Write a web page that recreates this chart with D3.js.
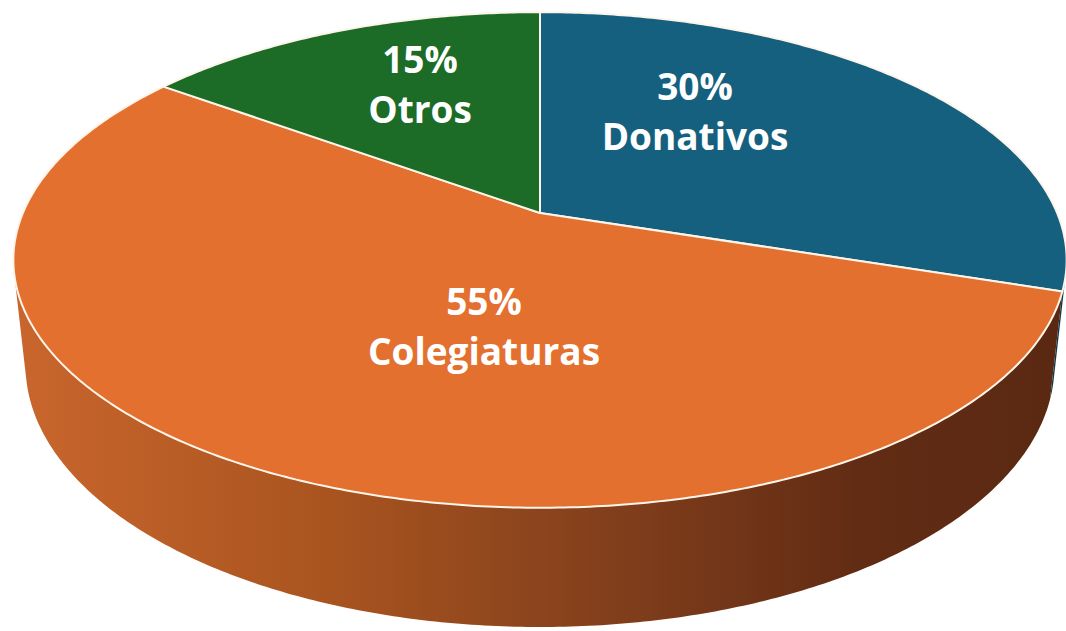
<!DOCTYPE html>
<html>
<head>
<meta charset="utf-8">
<script src="https://cdn.jsdelivr.net/npm/d3@7"></script>
<style>
  html, body { margin: 0; padding: 0; background: #fff; }
  svg { display: block; }
</style>
</head>
<body>
<div class="displayArea"></div>
<script>
// data
var categories = ["Donativos", "Colegiaturas", "Otros"];
var values = [30, 55, 15];
var pctLabels = ["30%", "55%", "15%"];

var topColors = ["#16607f", "#e3702f", "#1c6b27"],
    wallColors = ["#0d3a50", "url(#wallGrad)", "#0f3d16"];

var width = 1066,
    height = 631;

// camera for the 3d look (pie radius = 1 unit)
var cx = 540, cy = 213,   // where the slices meet on screen
    tilt = Math.asin(0.462),
    dist = 4.68,
    focal = 2420,
    depth = 0.2314;       // thickness of the pie

function project(theta, r, y) { // theta clockwise from 12 o'clock, y = height
    var u = r * Math.sin(theta),
        v = -r * Math.cos(theta); // toward the viewer
    var d = dist - y * Math.sin(tilt) - v * Math.cos(tilt);
    return [cx + focal * u / d, cy - focal * (y * Math.cos(tilt) - v * Math.sin(tilt)) / d];
}

function arcPoints(a0, a1, y) {
    var n = Math.max(2, Math.ceil(Math.abs(a1 - a0) / 0.01)),
        pts = [];
    for (var i = 0; i <= n; i++) {
        pts.push(project(a0 + (a1 - a0) * i / n, 1, y));
    }
    return pts;
}

var pie = d3.pie().sort(null).value(function (d) { return d; });
var slices = pie(values);

var svg = d3.select(".displayArea")
    .append("svg")
    .attr("width", width)
    .attr("height", height);

var defs = svg.append("defs");
var grad = defs.append("linearGradient")
    .attr("id", "wallGrad")
    .attr("gradientUnits", "userSpaceOnUse")
    .attr("x1", 13).attr("x2", 1067)
    .attr("y1", 0).attr("y2", 0);
grad.append("stop").attr("offset", 0).attr("stop-color", "#c9662d");
grad.append("stop").attr("offset", 0.3).attr("stop-color", "#a9541f");
grad.append("stop").attr("offset", 0.55).attr("stop-color", "#84401c");
grad.append("stop").attr("offset", 0.8).attr("stop-color", "#622c14");
grad.append("stop").attr("offset", 1).attr("stop-color", "#5a2812");

var line = d3.line();

// side walls, only the part that faces the camera
var tVis = 1 / (dist * Math.cos(tilt)),
    wallMin = Math.acos(-tVis),
    wallMax = 2 * Math.PI - wallMin;

svg.append("g").selectAll("path")
    .data(slices)
    .enter()
    .append("path")
    .attr("d", function (d) {
        var a0 = Math.max(d.startAngle, wallMin),
            a1 = Math.min(d.endAngle, wallMax);
        if (a1 <= a0) return null;
        var pts = arcPoints(a0, a1, 0).concat(arcPoints(a1, a0, -depth));
        return line(pts) + "Z";
    })
    .attr("fill", function (d, i) { return wallColors[i]; });

// top faces
svg.append("g").selectAll("path")
    .data(slices)
    .enter()
    .append("path")
    .attr("d", function (d) {
        var pts = [project(0, 0, 0)].concat(arcPoints(d.startAngle, d.endAngle, 0));
        return line(pts) + "Z";
    })
    .attr("fill", function (d, i) { return topColors[i]; })
    .attr("stroke", "#fdf5ea")
    .attr("stroke-width", 2)
    .attr("stroke-linejoin", "round");

// labels (anchor of first line, baseline)
var labelAt = [[695, 100], [484, 315], [420, 73]],
    lineGap = 50;

var lab = svg.append("g")
    .attr("font-family", "'Open Sans', sans-serif")
    .attr("font-weight", 700)
    .attr("font-size", 37)
    .attr("fill", "#ffffff")
    .attr("text-anchor", "middle")
    .selectAll("g")
    .data(slices)
    .enter()
    .append("g");

lab.append("text")
    .attr("x", function (d, i) { return labelAt[i][0]; })
    .attr("y", function (d, i) { return labelAt[i][1]; })
    .text(function (d, i) { return pctLabels[i]; });

lab.append("text")
    .attr("x", function (d, i) { return labelAt[i][0]; })
    .attr("y", function (d, i) { return labelAt[i][1] + lineGap; })
    .text(function (d, i) { return categories[i]; });
</script>
</body>
</html>
